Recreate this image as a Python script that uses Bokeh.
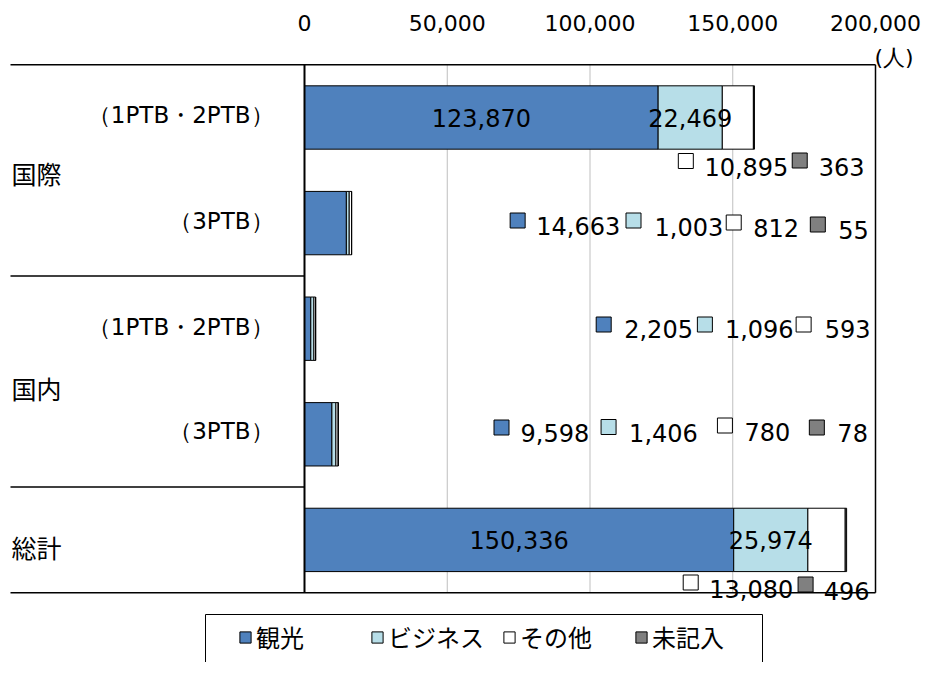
from bokeh.plotting import figure
from bokeh.models import (Range1d, FixedTicker, NumeralTickFormatter, Legend,
                          LegendItem, ColumnDataSource)
from bokeh.core.properties import value
from bokeh.embed import file_html
from bokeh.resources import INLINE

# ---------------- data ----------------
group_labels = ["国際", "国内", "総計"]
row_labels = ["（1PTB・2PTB）", "（3PTB）", "（1PTB・2PTB）", "（3PTB）"]
series_names = ["観光", "ビジネス", "その他", "未記入"]
kanko = [123870, 14663, 2205, 9598, 150336]
business = [22469, 1003, 1096, 1406, 25974]
sonota = [10895, 812, 593, 780, 13080]
mikinyu = [363, 55, 0, 78, 496]
x_ticks = [0, 50000, 100000, 150000, 200000]
unit_label = "(人)"

series_values = [kanko, business, sonota, mikinyu]
colors = ["#4F81BD", "#B7DEE8", "#FFFFFF", "#808080"]

# ---------------- layout (screen pixels) ----------------
W, H = 922, 662
X0_PX, XMAX_PX = 304, 875          # screen x of 0 and of the axis maximum
REF_X0, REF_XMAX = 304, 888        # same positions in the reference picture
ROW0_PX, ROW_PX = 117.0, 105.6     # screen y of first row centre, row pitch
FRAME_TOP = 45
NUM_FONT = value("DejaVu Sans")
CJK_FONT = value("Noto Sans CJK JP")


def X(px):
    """screen x -> data x"""
    return (px - X0_PX) * x_ticks[-1] / (XMAX_PX - X0_PX)


def XR(px):
    """reference-picture x (inside the plot) -> data x"""
    return (px - REF_X0) * x_ticks[-1] / (REF_XMAX - REF_X0)


def Y(py):
    return (py - ROW0_PX) / ROW_PX


p = figure(width=W, height=H,
           x_range=Range1d(X(0), X(W)),
           y_range=Range1d(Y(H), Y(FRAME_TOP)),
           x_axis_location="above", y_axis_location=None,
           toolbar_location=None, output_backend="svg",
           min_border_left=0, min_border_right=0, min_border_bottom=0,
           min_border_top=FRAME_TOP)
p.outline_line_color = None
p.xgrid.visible = False
p.ygrid.visible = False

ax = p.xaxis[0]
ax.ticker = FixedTicker(ticks=x_ticks)
ax.formatter = NumeralTickFormatter(format="0,0")
ax.axis_line_color = None
ax.major_tick_line_color = None
ax.minor_tick_line_color = None
ax.major_tick_out = 0
ax.major_tick_in = 0
ax.major_label_standoff = 15
ax.major_label_text_font = "DejaVu Sans"
ax.major_label_text_font_size = "22px"
ax.major_label_text_color = "#000000"

n_rows = len(kanko)
top_b, bot_b = -0.5, n_rows - 0.5
sep_b = [1.5, 3.5]

# gridlines
inner = [t for t in x_ticks if 0 < t < x_ticks[-1]]
p.segment(x0=inner, x1=inner, y0=[top_b] * len(inner), y1=[bot_b] * len(inner),
          line_color="#BFBFBF", line_width=1)

# bars
src = ColumnDataSource(dict(y=list(range(n_rows)), kanko=kanko, business=business,
                            sonota=sonota, mikinyu=mikinyu))
rends = p.hbar_stack(["kanko", "business", "sonota", "mikinyu"], y="y", height=0.6,
                     fill_color=colors, line_color="black", line_width=1, source=src)

# frame lines
left_px = 10
p.segment(x0=[X(left_px)] * 4, x1=[x_ticks[-1], x_ticks[-1], 0, 0],
          y0=[top_b, bot_b] + sep_b, y1=[top_b, bot_b] + sep_b,
          line_color="black", line_width=1.5)
p.segment(x0=[x_ticks[-1]], x1=[x_ticks[-1]], y0=[top_b], y1=[bot_b],
          line_color="black", line_width=1.5)
p.segment(x0=[0], x1=[0], y0=[top_b], y1=[bot_b], line_color="black", line_width=2)

# inside labels (rows 0 and 4, first two series)
in_x, in_y, in_t = [], [], []
for r in (0, 4):
    start = 0
    for s in (0, 1):
        v = series_values[s][r]
        in_x.append(start + v / 2)
        in_y.append(r)
        in_t.append(f"{v:,}")
        start += v
p.text(x=in_x, y=in_y, text=in_t, text_align="center", text_baseline="middle",
       text_font=NUM_FONT, text_font_size="24px", text_color="black")

# outside labels with legend keys: (row, series, square x, square y, text x, text y)
outside = [
    (0, 2, 694, 160.5, 713, 166), (0, 3, 810.5, 160, 830, 166),
    (1, 0, 522, 220, 541, 225), (1, 1, 640.5, 220, 662, 226),
    (1, 2, 743, 222, 763, 227.5), (1, 3, 829, 224, 850, 229),
    (2, 0, 610, 324, 631, 328), (2, 1, 713.5, 324, 734, 328),
    (2, 2, 814.5, 324, 836, 328),
    (3, 0, 505.5, 427, 525, 432.5), (3, 1, 615, 426.5, 636, 432.5),
    (3, 2, 734, 425, 754, 431), (3, 3, 828, 427, 849, 432),
    (4, 2, 699, 582, 718, 588.5), (4, 3, 816.5, 584, 835, 590.5),
]
p.scatter(x=[XR(o[2]) for o in outside], y=[Y(o[3]) for o in outside],
          marker="square", size=15, fill_color=[colors[o[1]] for o in outside],
          line_color="black", line_width=1)
p.text(x=[XR(o[4]) for o in outside], y=[Y(o[5]) for o in outside],
       text=[f"{series_values[o[1]][o[0]]:,}" for o in outside],
       text_align="left", text_baseline="middle", text_font=NUM_FONT,
       text_font_size="24px", text_color="black")

# category labels on the left
sub_y_px = [114, 220, 326, 430.5]
p.text(x=[X(273)] * len(row_labels), y=[Y(v) for v in sub_y_px], text=row_labels,
       text_align="right", text_baseline="middle", text_font=NUM_FONT,
       text_font_size="23px", text_color="black")
grp_y_px = [172, 387, 546]
p.text(x=[X(11)] * len(group_labels), y=[Y(v) for v in grp_y_px], text=group_labels,
       text_align="left", text_baseline="middle", text_font=CJK_FONT,
       text_font_size="25px", text_color="black")

# unit label
p.text(x=[X(XMAX_PX - 1)], y=[Y(57)], text=[unit_label], text_align="left",
       text_baseline="middle", text_font=NUM_FONT, text_font_size="22px",
       text_color="black")

# legend box
p.quad(left=[X(205)], right=[X(762)], top=[Y(614)], bottom=[Y(700)],
       fill_color="white", line_color="black", line_width=1)

legend = Legend(items=[LegendItem(label=n, renderers=[r]) for n, r in zip(series_names, rends)],
                orientation="horizontal", location=(238, 8),
                glyph_width=14, glyph_height=14, label_standoff=4, label_width=100,
                spacing=14, padding=0, margin=0, border_line_color=None,
                background_fill_alpha=0, label_text_font_size="24px",
                label_text_font="Noto Sans CJK JP", label_text_color="black")
p.add_layout(legend)

open("out.html", "w").write(file_html(p, INLINE))
